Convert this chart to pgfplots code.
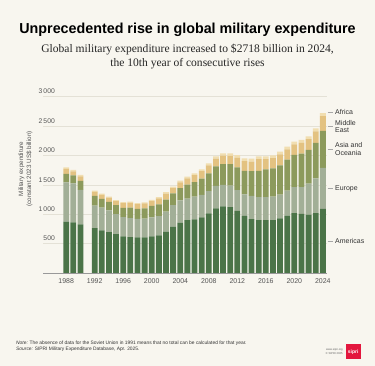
\documentclass[border=0pt]{standalone}
\usepackage{pgfplots}
\pgfplotsset{compat=1.18}
\usepackage{pgfplotstable}
\usepackage{fontspec}
\setmainfont{Liberation Sans}
\newfontfamily\seriffont{Liberation Serif}
\definecolor{bg}{HTML}{F8F6EF}
\definecolor{am}{HTML}{4B7448}
\definecolor{eu}{HTML}{A2AF97}
\definecolor{as}{HTML}{8C9A5C}
\definecolor{me}{HTML}{E3C281}
\definecolor{af}{HTML}{F1DEB0}
\definecolor{tickgrey}{HTML}{555555}
\definecolor{gridc}{HTML}{E4E1D6}
\definecolor{lblc}{HTML}{333333}
\definecolor{sipri}{HTML}{E3173E}

\pgfplotstableread{
year am eu as me af
1988 872 670 142 88 25
1989 859 666 136 68 23
1990 828 584 153 80 22
1992 764 381 165 70 20
1993 726 385 148 71 19
1994 697 366 148 69 18
1995 663 340 152 68 18
1996 624 326 158 79 18
1997 612 323 176 83 19
1998 604 318 170 79 19
1999 604 321 175 82 20
2000 621 326 196 81 21
2001 638 331 199 99 23
2002 702 341 205 103 24
2003 790 365 200 88 25
2004 855 378 212 98 27
2005 900 363 240 107 28
2006 913 385 249 118 30
2007 948 379 278 126 32
2008 1016 377 302 135 35
2009 1097 386 331 132 38
2010 1131 367 353 145 40
2011 1120 365 365 144 42
2012 1058 352 385 163 45
2013 973 365 400 163 47
2014 918 395 420 162 50
2015 901 390 445 200 49
2016 901 389 473 175 47
2017 901 397 482 174 46
2018 927 408 496 186 46
2019 974 429 525 175 45
2020 1020 442 545 180 46
2021 1005 457 570 182 48
2022 994 526 572 186 46
2023 1020 590 602 198 50
2024 1090 697 629 250 52
}\data

\newcommand{\rlab}[2]{%
  \draw[black!35, line width=0.4bp] (axis cs:2024.65,#1) -- (axis cs:2025.42,#1);
  \node[anchor=west, inner sep=0, align=left, font=\fontsize{7}{7.6}\selectfont, text=lblc] at (axis cs:2025.7,#1) {#2};
}

\begin{document}
\begin{tikzpicture}[x=1bp,y=1bp]
\path[use as bounding box, fill=bg] (0,0) rectangle (375,366);
% title
\node[anchor=base, inner sep=0, font=\fontsize{14.5}{16}\selectfont\bfseries] at (187.5,332.7)
  {\scalebox{0.99}[1]{Unprecedented rise in global military expenditure}};
\node[anchor=base, inner sep=0, font=\seriffont\fontsize{11.6}{13}\selectfont, text=black!85] at (187.5,313.5)
  {Global military expenditure increased to \$2718 billion in 2024,};
\node[anchor=base, inner sep=0, font=\seriffont\fontsize{11.6}{13}\selectfont, text=black!85] at (187.5,299.5)
  {the 10th year of consecutive rises};
% y label
\node[rotate=90, align=center, font=\fontsize{6.3}{8}\selectfont, text=tickgrey] at (25.5,197)
  {Military expenditure\\(constant 2023 US\$ billion)};

\begin{axis}[
  at={(43bp,93bp)}, anchor=south west,
  scale only axis, width=284bp, height=176.4bp,
  xmin=1984.75, xmax=2024.58, ymin=0, ymax=3000,
  ybar stacked, bar width=5.8bp,
  axis line style={draw=none},
  tick style={draw=none},
  major tick length=0pt,
  ytick={500,1000,...,3000},
  xtick={1988,1992,...,2024},
  ymajorgrids,
  grid style={gridc, line width=0.5bp},
  /pgf/number format/assume math mode=true,
  yticklabel style={/pgf/number format/1000 sep={\,}, anchor=south east, inner sep=0pt, xshift=12bp, yshift=2.5bp,
     font=\fontsize{6.8}{8}\selectfont, text=tickgrey},
  xticklabel style={/pgf/number format/1000 sep={}, yshift=-2bp,
     font=\fontsize{7}{8}\selectfont, text=tickgrey},
  clip=false,
]
\draw[black!40, line width=0.5bp] (axis cs:1984.75,0) -- (axis cs:2024.58,0);
\addplot[fill=am, draw=none] table[x=year,y=am]{\data};
\addplot[fill=eu, draw=none] table[x=year,y=eu]{\data};
\addplot[fill=as, draw=none] table[x=year,y=as]{\data};
\addplot[fill=me, draw=none] table[x=year,y=me]{\data};
\addplot[fill=af, draw=none] table[x=year,y=af]{\data};
\rlab{2740}{Africa}
\rlab{2490}{Middle\\East}
\rlab{2105}{Asia and\\Oceania}
\rlab{1440}{Europe}
\rlab{545}{Americas}
\end{axis}

% notes
\node[anchor=base west, inner sep=0, font=\fontsize{4.9}{5.5}\selectfont, text=black!80] at (16,21.5)
  {\textit{Note:} The absence of data for the Soviet Union in 1991 means that no total can be calculated for that year.};
\node[anchor=base west, inner sep=0, font=\fontsize{4.9}{5.5}\selectfont, text=black!80] at (16,16)
  {\textit{Source:} SIPRI Military Expenditure Database, Apr. 2025.};
% logo
\fill[sipri] (345.7,7) rectangle (360.7,22);
\node[inner sep=0, font=\fontsize{5}{5}\selectfont\bfseries, text=white] at (353.2,14) {sipri};
\node[anchor=east, inner sep=0, align=right, font=\fontsize{2.8}{4}\selectfont, text=black!60] at (343,14.5)
  {www.sipri.org\\\copyright{} SIPRI 2025};
\end{tikzpicture}
\end{document}
